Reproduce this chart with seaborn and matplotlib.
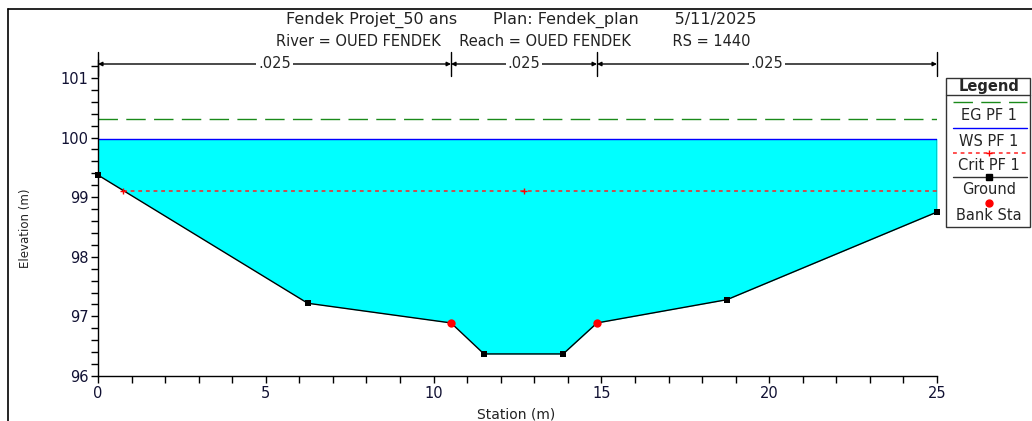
import numpy as np
import pandas as pd
import matplotlib
matplotlib.use("Agg")
import matplotlib.pyplot as plt
import seaborn as sns
from matplotlib.lines import Line2D
from matplotlib.patches import Rectangle
from matplotlib.ticker import MultipleLocator
import matplotlib.transforms as mtransforms

# Cross-section geometry (RS 1440)
station = [0.0, 6.25, 10.52, 11.5, 13.86, 14.87, 18.74, 25.0]
elevation = [99.37, 97.22, 96.89, 96.37, 96.37, 96.89, 97.28, 98.75]
bank_station = [10.52, 14.87]
bank_elev = [96.89, 96.89]

# Profile PF 1 results
ws_elev = 99.98
eg_elev = 100.31
crit_elev = 99.10
crit_start = 0.74

# Manning's n regions
n_bounds = [0.0, 10.52, 14.87, 25.0]
n_values = [".025", ".025", ".025"]

title_line1 = "Fendek Projet_50 ans       Plan: Fendek_plan       5/11/2025"
title_line2 = "River = OUED FENDEK    Reach = OUED FENDEK         RS = 1440"

sns.set_style("white")
plt.rcParams["font.family"] = ["DejaVu Sans"]

W, H = 1032, 421
fig = plt.figure(figsize=(W / 100, H / 100), dpi=100)


def fx(x):
    return x / W


def fy(y):
    return 1 - y / H


ax = fig.add_axes([fx(98), fy(376), fx(937) - fx(98), fy(60) - fy(376)])

ground = pd.DataFrame({"Station": station, "Elevation": elevation})
banks = pd.DataFrame({"Station": bank_station, "Elevation": bank_elev})
ground_pts = ground[~ground["Station"].isin(bank_station)]

# Water area between ground and water surface
ax.fill_between(station, elevation, ws_elev, color="#00FFFF", lw=0, zorder=1)
ax.plot([station[-1], station[-1]], [elevation[-1], ws_elev], color="black", lw=1, zorder=3)

# Energy grade, water surface and critical lines
ax.plot([station[0], station[-1]], [eg_elev, eg_elev], color="#1a8a1a", lw=1,
        dashes=(14, 6), zorder=2)
ax.plot([station[0], station[-1]], [ws_elev, ws_elev], color="#0000FF", lw=1, zorder=2)
ax.plot([crit_start, station[-1]], [crit_elev, crit_elev], color="#ff2020", lw=1.1,
        dashes=(2.5, 2.5), zorder=2)
crit_mid = (station[0] + station[-1]) / 2 + 0.2
ax.plot([crit_start, crit_mid], [crit_elev, crit_elev],
        ls="none", marker="+", color="red", ms=5, mew=1, zorder=4)

# Ground profile
sns.lineplot(data=ground, x="Station", y="Elevation", sort=False, color="black",
             lw=1, ax=ax, zorder=3)
sns.scatterplot(data=ground_pts, x="Station", y="Elevation", marker="s", color="black",
                s=24, edgecolor="black", linewidth=0, ax=ax, zorder=5, clip_on=False)
sns.scatterplot(data=banks, x="Station", y="Elevation", marker="o", color="red",
                s=36, edgecolor="red", linewidth=0, ax=ax, zorder=6)

ax.set_xlim(0, 25)
ax.set_ylim(96, 101.3)
ax.xaxis.set_major_locator(MultipleLocator(5))
ax.xaxis.set_minor_locator(MultipleLocator(1))
ax.yaxis.set_major_locator(MultipleLocator(1))
ax.yaxis.set_minor_locator(MultipleLocator(0.2))
ax.tick_params(which="both", direction="out", length=5, width=1, color="black",
               left=True, bottom=True, labelsize=10.5, labelcolor="#111133", pad=2)
for s in ["top", "right"]:
    ax.spines[s].set_visible(False)
for s in ["left", "bottom"]:
    ax.spines[s].set_color("black")
    ax.spines[s].set_linewidth(1)
ax.set_xlabel("")
ax.set_ylabel("")
ax.set_facecolor("white")

fig.text(fx(516), fy(414), "Station (m)", ha="center", va="center", fontsize=10,
         color="#222222")
fig.text(fx(26), fy(228), "Elevation (m)", ha="center", va="center", fontsize=8.5,
         rotation=90, color="#222222")

# Manning's n brackets above the plot
trans = mtransforms.blended_transform_factory(ax.transData, fig.transFigure)
y_line = fy(64)
for xb in n_bounds:
    ax.add_line(Line2D([xb, xb], [fy(52), fy(76)], transform=trans, color="black",
                       lw=1, clip_on=False))
for i, lab in enumerate(n_values):
    x0, x1 = n_bounds[i], n_bounds[i + 1]
    ax.annotate("", xy=(x0, y_line), xytext=(x1, y_line), xycoords=trans,
                textcoords=trans,
                arrowprops=dict(arrowstyle="<|-|>", color="black", lw=1,
                                mutation_scale=6, shrinkA=0, shrinkB=0))
    ax.text((x0 + x1) / 2, y_line, lab, transform=trans, ha="center", va="center",
            fontsize=10.5, bbox=dict(facecolor="white", edgecolor="none", pad=1.5))

# Titles
fig.text(fx(521), fy(20), title_line1, ha="center", va="center", fontsize=11.5,
         color="#222222")
fig.text(fx(513), fy(42), title_line2, ha="center", va="center", fontsize=10.5,
         color="#222222")

# Outer frame
fig.add_artist(Line2D([fx(8), 1], [fy(9), fy(9)], color="black", lw=1.2))
fig.add_artist(Line2D([fx(8), fx(8)], [fy(9), 0], color="black", lw=1.2))

# Legend panel
fig.add_artist(Rectangle((fx(946), fy(227)), fx(1030) - fx(946), fy(78) - fy(227),
                         transform=fig.transFigure, facecolor="white",
                         edgecolor="#333333", lw=1))
fig.add_artist(Line2D([fx(946), fx(1030)], [fy(95), fy(95)], color="#333333", lw=1))
lx0, lx1, lxc = fx(953), fx(1027), fx(989)
fs_leg = 10.5
fig.text(lxc, fy(86), "Legend", ha="center", va="center", fontsize=fs_leg,
         fontweight="bold")
fig.add_artist(Line2D([lx0, lx1], [fy(102), fy(102)], color="#1a8a1a", lw=1,
                      dashes=(14, 6)))
fig.text(lxc, fy(115), "EG PF 1", ha="center", va="center", fontsize=fs_leg)
fig.add_artist(Line2D([lx0, lx1], [fy(128), fy(128)], color="#0000FF", lw=1))
fig.text(lxc, fy(141), "WS PF 1", ha="center", va="center", fontsize=fs_leg)
fig.add_artist(Line2D([lx0, lx1], [fy(153), fy(153)], color="#ff2020", lw=1.1,
                      dashes=(2.5, 2.5)))
fig.add_artist(Line2D([lxc], [fy(153)], color="red", marker="+", ms=5, ls="none"))
fig.text(lxc, fy(165), "Crit PF 1", ha="center", va="center", fontsize=fs_leg)
fig.add_artist(Line2D([lx0, lx1], [fy(177), fy(177)], color="#333333", lw=1))
fig.add_artist(Line2D([lxc], [fy(177)], color="black", marker="s", ms=4.5, ls="none"))
fig.text(lxc, fy(190), "Ground", ha="center", va="center", fontsize=fs_leg)
fig.add_artist(Line2D([lxc], [fy(203)], color="red", marker="o", ms=5, ls="none"))
fig.text(lxc, fy(215), "Bank Sta", ha="center", va="center", fontsize=fs_leg)

fig.savefig("out.png", dpi=100, facecolor="white")
